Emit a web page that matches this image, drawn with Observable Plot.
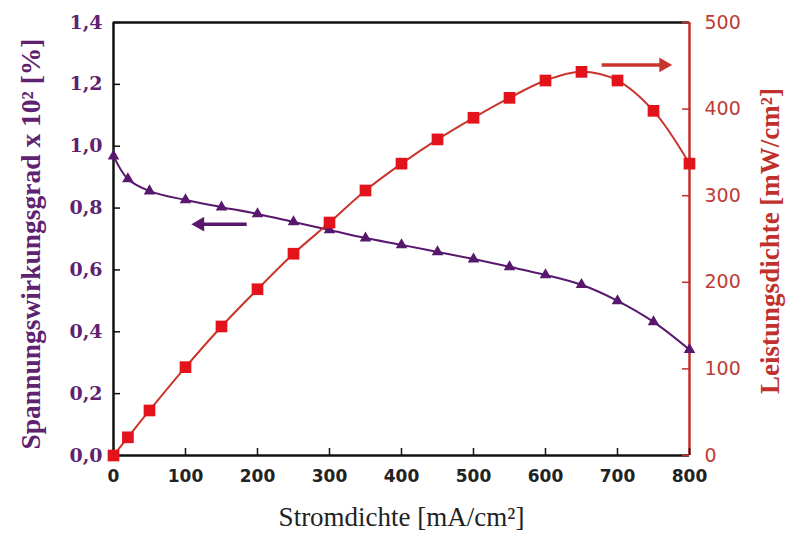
<!DOCTYPE html>
<html>
<head>
<meta charset="utf-8">
<script src="https://cdn.jsdelivr.net/npm/d3@7"></script>
<script src="https://cdn.jsdelivr.net/npm/@observablehq/plot@0.6"></script>
<style>
  html, body { margin: 0; padding: 0; background: #fff; }
  #chart svg { display: block; }
</style>
</head>
<body>
<div id="chart"></div>
<script>
// ---- data ----
const current = [0, 20, 50, 100, 150, 200, 250, 300, 350, 400, 450, 500, 550, 600, 650, 700, 750, 800];
const efficiency = [0.968, 0.894, 0.855, 0.826, 0.803, 0.781, 0.755, 0.729, 0.703, 0.681, 0.658, 0.635, 0.610, 0.584, 0.552, 0.500, 0.432, 0.342];
const power = [0, 21, 52, 102, 149, 192, 233, 269, 306, 337, 365, 390, 413, 433, 443, 433, 398, 337];

const xTicks = [0, 100, 200, 300, 400, 500, 600, 700, 800];
const leftTicks = [0, 0.2, 0.4, 0.6, 0.8, 1.0, 1.2, 1.4];
const rightTicks = [0, 100, 200, 300, 400, 500];

const xLabel = "Stromdichte [mA/cm²]";
const leftLabel = "Spannungswirkungsgrad x 10² [%]";
const rightLabel = "Leistungsdichte [mW/cm²]";

// annotation arrows: [x from, x to, value]
const effArrow = [{x1: 185, x2: 120, y: 0.748}];
const powArrow = [{x1: 678, x2: 764, y: 451}];

// ---- layout ----
const W = 796, H = 533;
const mL = 113, mR = 107, mT = 22, mB = 78;
const fw = W - mL - mR, fh = H - mT - mB;
const yMax = 1.4, pMax = 500, k = yMax / pMax;

const purple = "#58186e";
const purpleText = "#5e2270";
const red = "#e3131b";
const redLine = "#c9352c";
const redAxis = "#c0302c";
const redText = "#bf3b35";

const effData = current.map((x, i) => ({x, y: efficiency[i]}));
const powData = current.map((x, i) => ({x, y: power[i] * k}));

const fmtLeft = d => d3.format(".1f")(d).replace(".", ",");

const chart = Plot.plot({
  width: W,
  height: H,
  marginLeft: mL, marginRight: mR, marginTop: mT, marginBottom: mB,
  x: {domain: [0, 800], axis: null},
  y: {domain: [0, yMax], axis: null},
  style: {background: "#fff", overflow: "visible"},
  marks: [
    // frame
    Plot.ruleY([yMax], {stroke: "#111", strokeWidth: 2.5}),
    Plot.ruleY([0], {stroke: "#111", strokeWidth: 2.5}),
    Plot.ruleX([0], {stroke: "#111", strokeWidth: 2.5}),
    Plot.ruleX([800], {stroke: redAxis, strokeWidth: 2.5}),
    // inward ticks
    Plot.tickY(leftTicks, {y: d => d, stroke: "#111", strokeWidth: 1.5, insetRight: fw - 7}),
    Plot.tickY(rightTicks, {y: d => d * k, stroke: redAxis, strokeWidth: 1.5, insetLeft: fw - 7}),
    Plot.tickX(xTicks, {x: d => d, stroke: "#111", strokeWidth: 1.5, insetTop: fh - 7}),
    // tick labels
    Plot.axisY(leftTicks, {anchor: "left", tickSize: 0, tickPadding: 11, tickFormat: fmtLeft,
      fontFamily: "DejaVu Serif", fontWeight: "bold", fontSize: 19, fill: purpleText, label: null}),
    Plot.axisY(rightTicks.map(v => v * k), {anchor: "right", tickSize: 0, tickPadding: 15,
      tickFormat: d => Math.round(d / k), fontFamily: "DejaVu Sans", fontSize: 19, fill: redText, label: null}),
    Plot.axisX(xTicks, {anchor: "bottom", tickSize: 0, tickPadding: 14, tickFormat: d => d,
      fontFamily: "DejaVu Sans", fontWeight: "bold", fontSize: 17, fill: "#222", label: null}),
    // axis titles
    Plot.text([leftLabel], {text: d => d, frameAnchor: "left", textAnchor: "middle", lineAnchor: "middle",
      dx: -82, dy: 5, rotate: -90,
      fontFamily: "Liberation Serif", fontWeight: "bold", fontSize: 27.5, fill: purpleText}),
    Plot.text([rightLabel], {text: d => d, frameAnchor: "right", textAnchor: "middle", lineAnchor: "middle",
      dx: 81, dy: 2, rotate: -90,
      fontFamily: "Liberation Serif", fontWeight: "bold", fontSize: 27, fill: redAxis}),
    Plot.text([xLabel], {text: d => d, frameAnchor: "bottom", lineAnchor: "middle", dy: 62,
      fontFamily: "Liberation Serif", fontSize: 27, fill: "#222"}),
    // series
    Plot.line(effData, {x: "x", y: "y", stroke: purple, strokeWidth: 2, curve: "catmull-rom"}),
    Plot.dot(effData, {x: "x", y: "y", symbol: "triangle", r: 4.3, fill: purple, stroke: "none"}),
    Plot.line(powData, {x: "x", y: "y", stroke: redLine, strokeWidth: 2, curve: "catmull-rom"}),
    Plot.dot(powData, {x: "x", y: "y", symbol: "square", r: 6.6, fill: red, stroke: "none"}),
    // arrows
    Plot.link(effArrow, {x1: "x1", x2: "x2", y1: "y", y2: "y", stroke: purple, strokeWidth: 3.5}),
    Plot.dot(effArrow, {x: "x2", y: "y", symbol: "triangle", r: 5.5, rotate: -90, fill: purple, stroke: "none"}),
    Plot.link(powArrow, {x1: "x1", x2: "x2", y1: d => d.y * k, y2: d => d.y * k, stroke: redLine, strokeWidth: 3.5}),
    Plot.dot(powArrow, {x: "x2", y: d => d.y * k, symbol: "triangle", r: 5.5, rotate: 90, fill: redLine, stroke: "none"})
  ]
});
document.getElementById("chart").appendChild(chart);
</script>
</body>
</html>
